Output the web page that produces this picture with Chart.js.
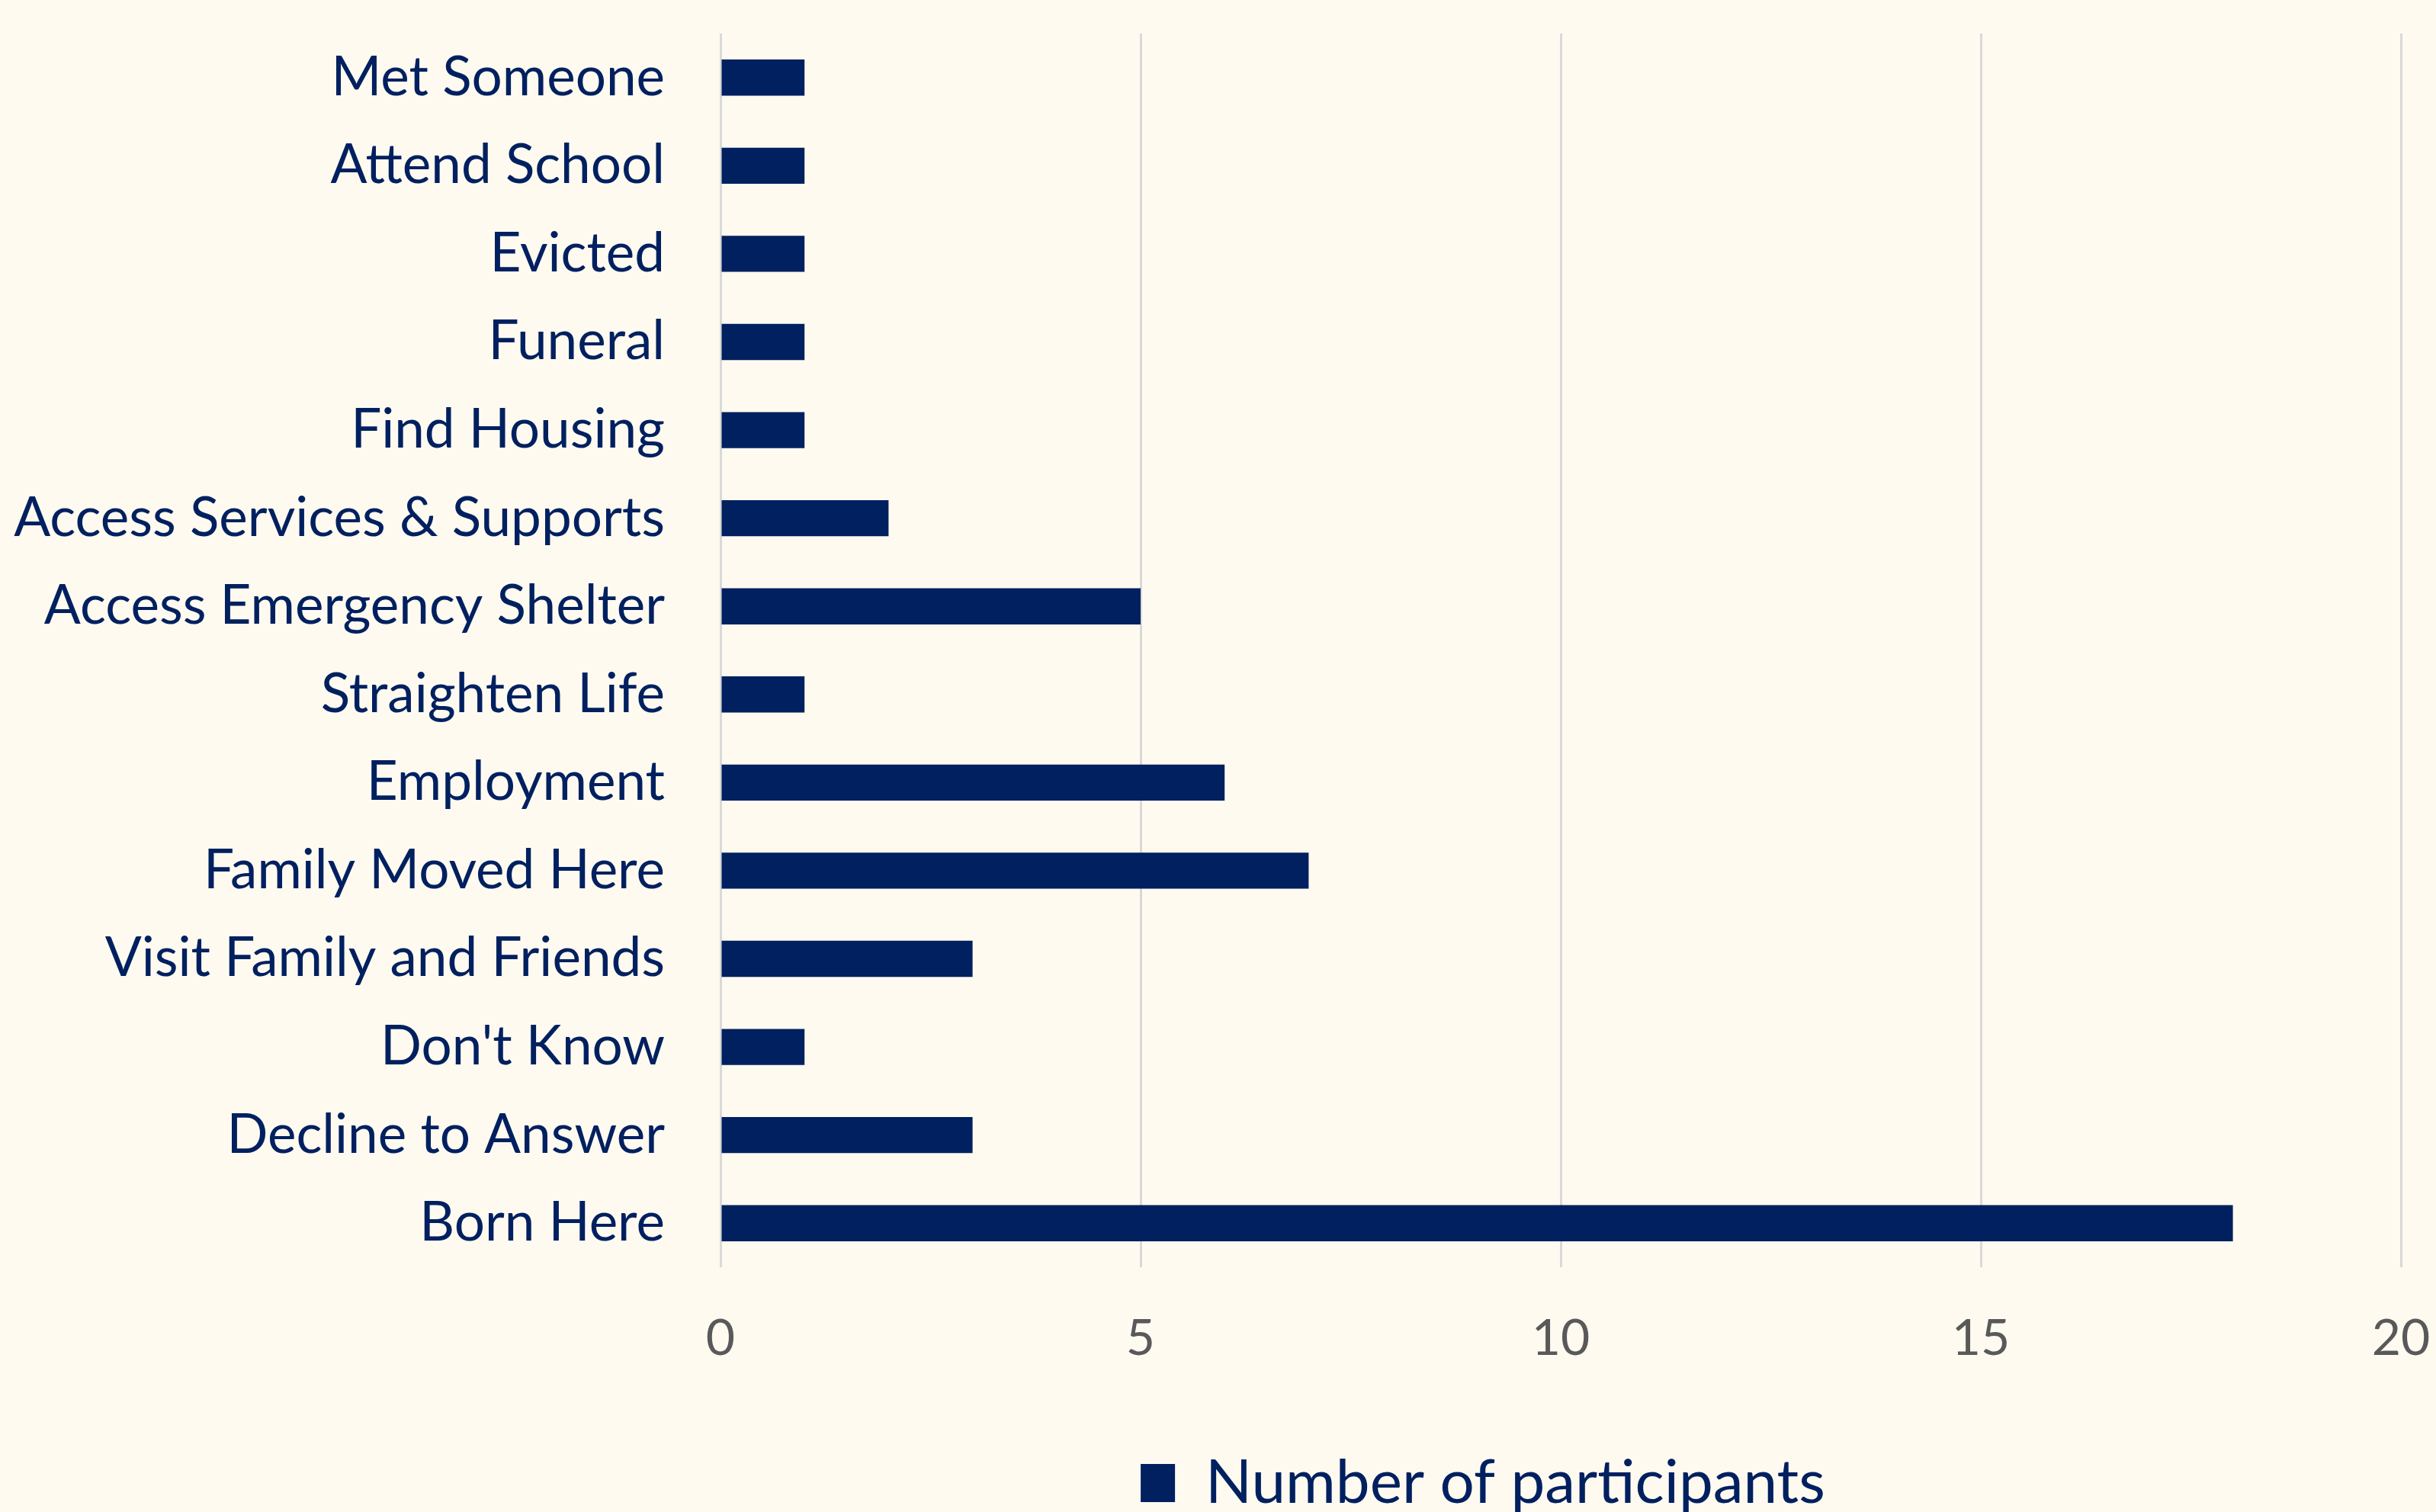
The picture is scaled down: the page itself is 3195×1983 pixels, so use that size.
<!DOCTYPE html>
<html>
<head>
<meta charset="utf-8">
<script src="https://cdn.jsdelivr.net/npm/chart.js@4"></script>
<style>
  html, body { margin: 0; padding: 0; background: #fefaf0; overflow: hidden; }
  #wrap { width: 3195px; height: 1983px; position: relative; }
</style>
</head>
<body>
<div id="wrap"><canvas id="reasonsChart"></canvas></div>
<script>
// Reasons for coming to the city, one bar per reason
const reasons = [
    'Met Someone',
    'Attend School',
    'Evicted',
    'Funeral',
    'Find Housing',
    'Access Services & Supports',
    'Access Emergency Shelter',
    'Straighten Life',
    'Employment',
    'Family Moved Here',
    'Visit Family and Friends',
    "Don't Know",
    'Decline to Answer',
    'Born Here'
];
const participants = [1, 1, 1, 1, 1, 2, 5, 1, 6, 7, 3, 1, 3, 18];
const xTicks = [0, 5, 10, 15, 20];

const navy = '#002060';
const labelFont = 'Lato, Calibri, "Open Sans", sans-serif';

// legend sits a little left of the plot centre
const legendShift = {
    id: 'legendShift',
    afterLayout(chart) {
        const lg = chart.legend;
        if (lg) {
            lg.left -= 102;
            lg.right -= 102;
        }
    }
};

const ctx = document.getElementById('reasonsChart').getContext('2d');

new Chart(ctx, {
    type: 'bar',
    data: {
        labels: reasons,
        datasets: [{
            label: 'Number of participants',
            data: participants,
            backgroundColor: navy,
            borderWidth: 0,
            categoryPercentage: 1,
            barPercentage: 0.41
        }]
    },
    options: {
        indexAxis: 'y',
        responsive: true,
        maintainAspectRatio: false,
        animation: false,
        layout: {
            padding: { top: 44, right: 46, left: 0, bottom: -12 }
        },
        scales: {
            x: {
                min: xTicks[0],
                max: xTicks[xTicks.length - 1],
                afterBuildTicks: function (scale) {
                    scale.ticks = xTicks.map(v => ({ value: v }));
                },
                afterFit: function (scale) {
                    scale.height = 233;
                    scale.paddingLeft = 0;
                    scale.paddingRight = 0;
                },
                grid: {
                    color: '#d9d9d9',
                    lineWidth: 3,
                    drawTicks: false
                },
                border: { display: false },
                ticks: {
                    padding: 54,
                    color: '#595959',
                    font: { family: labelFont, size: 66 }
                }
            },
            y: {
                afterFit: function (scale) {
                    // fixed label column; keep the big tick padding from pushing the plot down
                    scale.width = 945;
                    scale.paddingTop = 0;
                    scale.paddingBottom = 0;
                },
                grid: { display: false, drawTicks: false },
                border: { display: false },
                ticks: {
                    padding: 73,
                    color: navy,
                    font: { family: labelFont, size: 71 }
                }
            }
        },
        plugins: {
            legend: {
                position: 'bottom',
                fullSize: false,
                labels: {
                    color: navy,
                    font: { family: labelFont, size: 80 },
                    boxWidth: 45,
                    boxHeight: 50,
                    padding: 10
                }
            },
            tooltip: { enabled: false }
        }
    },
    plugins: [legendShift]
});
</script>
</body>
</html>
